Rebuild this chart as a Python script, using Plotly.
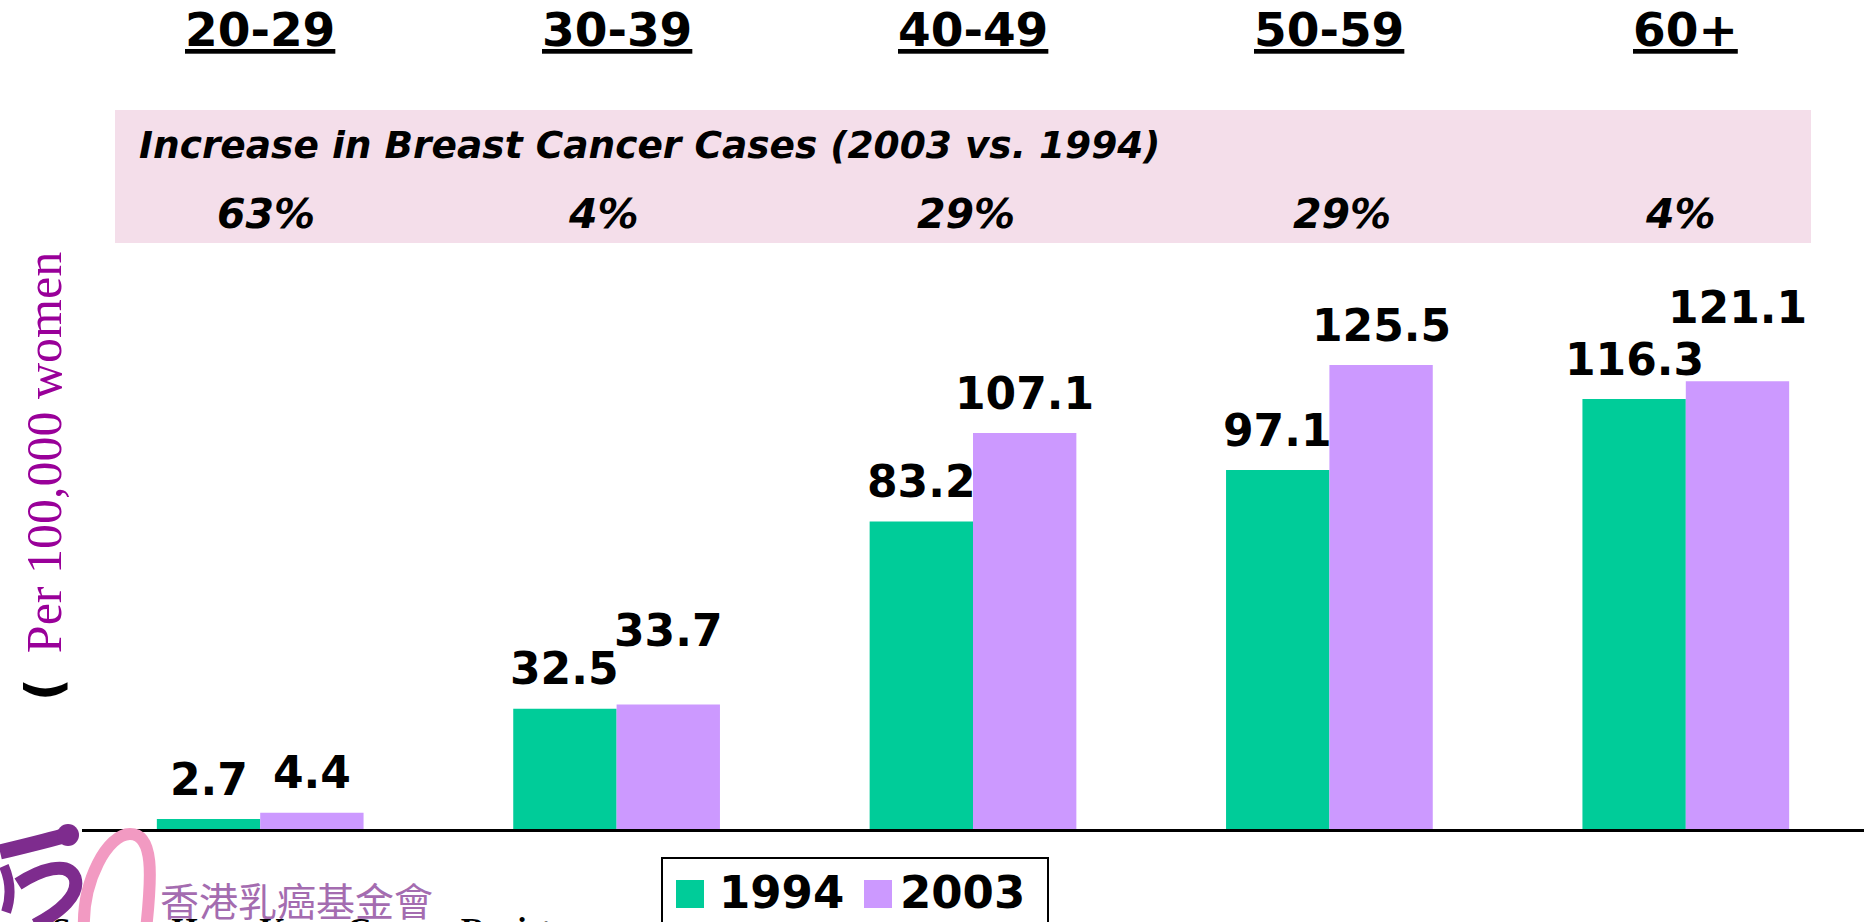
import plotly.graph_objects as go

# ---- data ----
age_groups = ["20-29", "30-39", "40-49", "50-59", "60+"]
rate_1994 = [2.7, 32.5, 83.2, 97.1, 116.3]
rate_2003 = [4.4, 33.7, 107.1, 125.5, 121.1]
increase_pct = ["63%", "4%", "29%", "29%", "4%"]
series_names = ["1994", "2003"]
box_title = "Increase in Breast Cancer Cases (2003 vs. 1994)"
y_title = "Per 100,000 women"
source_text = "Source: Hong Kong Cancer Registry"
org_name = "香港乳癌基金會"

# ---- style ----
GREEN = "#00CC99"
PURPLE = "#CC99FF"
COLORS = [GREEN, PURPLE]
W, H = 1864, 922
L, R, T, B = 82, 1864, 250, 829  # plot area in pixels
PX_PER_UNIT = 3.697
SANS = "DejaVu Sans"
pct_nudge = [6, -13, -7, 13, -5]   # small horizontal nudges of the % labels (px)
legend_icon_x = [676, 864]          # legend layout (px)
legend_text_x = [717, 898]

def px(x):
    return (x - L) / (R - L)

def py(y):
    return (B - y) / (B - T)

fig = go.Figure()
for name, vals, col in zip(series_names, [rate_1994, rate_2003], COLORS):
    fig.add_trace(go.Bar(x=age_groups, y=vals, name=name, showlegend=False,
                         marker=dict(color=col, line=dict(width=0))))

bargap = 0.42
cat_px = (R - L) / len(age_groups)
half_bar = cat_px * (1 - bargap) / 4

annotations = []
# value labels
raised = {(1, 1), (1, 4)}  # labels drawn higher to avoid overlap
for s, vals in enumerate([rate_1994, rate_2003]):
    for i, v in enumerate(vals):
        annotations.append(dict(
            x=age_groups[i], y=v, xref="x", yref="y",
            text=f"{v:.1f}", showarrow=False,
            xshift=(-half_bar if s == 0 else half_bar),
            yshift=(74 if (s, i) in raised else 40),
            yanchor="middle", xanchor="center",
            font=dict(family=SANS, size=44, color="black", weight="bold")))

# category headers and increase percentages
for i, g in enumerate(age_groups):
    annotations.append(dict(
        x=g, xref="x", y=py(30), yref="paper", text=f"<u>{g}</u>",
        showarrow=False, xanchor="center", yanchor="middle",
        font=dict(family=SANS, size=47, color="black", weight="bold")))
    annotations.append(dict(
        x=g, xref="x", y=py(214), yref="paper", text=f"<i>{increase_pct[i]}</i>",
        showarrow=False, xanchor="center", yanchor="middle", xshift=pct_nudge[i],
        font=dict(family=SANS, size=41, color="black", weight="bold")))

annotations.append(dict(
    x=px(137), xref="paper", y=py(145), yref="paper", text=f"<i>{box_title}</i>",
    showarrow=False, xanchor="left", yanchor="middle",
    font=dict(family=SANS, size=37.5, color="black", weight="bold")))

# y axis title
annotations.append(dict(
    x=px(44), xref="paper", y=py(477), yref="paper",
    text=f"<span style='color:black;font-family:DejaVu Sans;font-weight:bold'>(</span>  {y_title}",
    textangle=-90, showarrow=False, xanchor="center", yanchor="middle",
    font=dict(family="Liberation Serif", size=50, color="#990099")))

shapes = [
    dict(type="rect", xref="paper", yref="paper",
         x0=px(115), x1=px(1811), y0=py(243), y1=py(110),
         fillcolor="#F4DEEA", line=dict(width=0), layer="below"),
]

# legend (box, colour keys, names)
shapes.append(dict(type="rect", xref="paper", yref="paper",
                   x0=px(662), x1=px(1048), y0=py(935), y1=py(858),
                   fillcolor="white", line=dict(color="black", width=2)))
for n, c, ix, tx in zip(series_names, COLORS, legend_icon_x, legend_text_x):
    shapes.append(dict(type="rect", xref="paper", yref="paper",
                       x0=px(ix), x1=px(ix + 28), y0=py(908), y1=py(880),
                       fillcolor=c, line=dict(width=0)))
    annotations.append(dict(
        x=px(tx), xref="paper", y=py(892), yref="paper", text=n,
        showarrow=False, xanchor="left", yanchor="middle",
        font=dict(family=SANS, size=45, color="black", weight="bold")))

# organisation name and source
annotations.append(dict(
    x=px(158), xref="paper", y=py(899), yref="paper", text=org_name,
    showarrow=False, xanchor="left", yanchor="middle",
    font=dict(family="Noto Sans CJK TC", size=39, color="#A46CB0")))
annotations.append(dict(
    x=px(50), xref="paper", y=py(909), yref="paper", text=f"<b>{source_text}</b>",
    showarrow=False, xanchor="left", yanchor="top",
    font=dict(family="Liberation Serif", size=34, color="black")))

def path(points):
    out = []
    for cmd, coords in points:
        out.append(cmd + " " + ",".join(
            f"{px(coords[k]):.4f} {py(coords[k+1]):.4f}" for k in range(0, len(coords), 2)))
    return " ".join(out)

# decorative logo strokes
shapes.append(dict(type="path", xref="paper", yref="paper",
                   path=path([("M", (84, 930)), ("C", (82, 880, 108, 834, 130, 834)),
                              ("C", (154, 834, 152, 875, 146, 930))]),
                   line=dict(color="#F29AC2", width=12)))
shapes.append(dict(type="path", xref="paper", yref="paper",
                   path=path([("M", (0, 852)), ("C", (25, 846, 50, 840, 70, 834))]),
                   line=dict(color="#7E2C8E", width=15)))
shapes.append(dict(type="circle", xref="paper", yref="paper",
                   x0=px(57), x1=px(79), y0=py(846), y1=py(824),
                   fillcolor="#7E2C8E", line=dict(width=0)))
shapes.append(dict(type="path", xref="paper", yref="paper",
                   path=path([("M", (18, 884)), ("C", (40, 870, 68, 860, 75, 878)),
                              ("C", (80, 895, 60, 912, 35, 925))]),
                   line=dict(color="#7E2C8E", width=13)))
shapes.append(dict(type="path", xref="paper", yref="paper",
                   path=path([("M", (4, 866)), ("C", (10, 880, 12, 895, 6, 912))]),
                   line=dict(color="#7E2C8E", width=10)))

fig.update_layout(
    width=W, height=H,
    margin=dict(l=L, r=W - R, t=T, b=H - B, pad=0),
    paper_bgcolor="white", plot_bgcolor="white",
    barmode="group", bargap=bargap, bargroupgap=0,
    showlegend=False,
    xaxis=dict(showline=True, linecolor="black", linewidth=3, showticklabels=False,
               ticks="", showgrid=False, zeroline=False, range=[-0.5, 4.5]),
    yaxis=dict(range=[0, (B - T) / PX_PER_UNIT], visible=False, showgrid=False,
               zeroline=False),
    annotations=annotations,
    shapes=shapes,
)

fig.write_html("out.html", config={"displayModeBar": False},
               post_script="document.body.style.margin='0';document.body.style.overflow='hidden';")
